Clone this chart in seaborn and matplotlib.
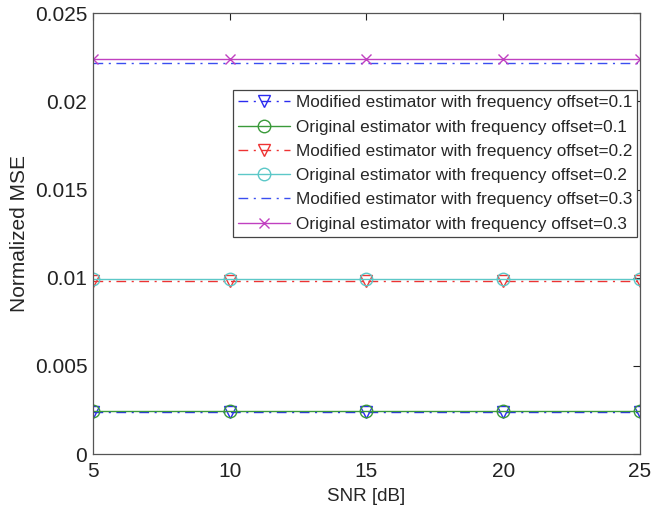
import numpy as np
import pandas as pd
import seaborn as sns
import matplotlib
matplotlib.use('Agg')
import matplotlib.pyplot as plt

sns.set_style('white')
plt.rcParams['font.family'] = ['Liberation Sans', 'DejaVu Sans']

# data
snr = [5, 10, 15, 20, 25]
mod_01 = [0.00240, 0.00240, 0.00240, 0.00240, 0.00240]
orig_01 = [0.00246, 0.00246, 0.00246, 0.00246, 0.00246]
mod_02 = [0.00981, 0.00981, 0.00981, 0.00981, 0.00981]
orig_02 = [0.00992, 0.00992, 0.00992, 0.00992, 0.00992]
mod_03 = [0.02219, 0.02219, 0.02219, 0.02219, 0.02219]
orig_03 = [0.02239, 0.02239, 0.02239, 0.02239, 0.02239]

labels = ['Modified estimator with frequency offset=0.1',
          'Original estimator with frequency offset=0.1',
          'Modified estimator with frequency offset=0.2',
          'Original estimator with frequency offset=0.2',
          'Modified estimator with frequency offset=0.3',
          'Original estimator with frequency offset=0.3']
series = [mod_01, orig_01, mod_02, orig_02, mod_03, orig_03]

# style per series: colour, linestyle, marker, marker size
dashdot = (0, (7, 4, 1.5, 4))
styles = [('#2b2bf0', dashdot, 'v', 9),
          ('#3a9a3a', '-', 'o', 9),
          ('#ee3333', dashdot, 'v', 9),
          ('#5cc8c8', '-', 'o', 9),
          ('#3a4ef0', dashdot, None, 0),
          ('#c040c0', '-', 'x', 7)]

fig = plt.figure(figsize=(6.68, 5.07), dpi=100)
ax = fig.add_axes([0.139, 0.1045, 0.819, 0.8695])

for lab, vals, (c, ls, m, ms) in zip(labels, series, styles):
    df = pd.DataFrame({'snr': snr, 'mse': vals})
    kw = dict(color=c, linestyle=ls, linewidth=1.0, label=lab)
    if m is not None:
        kw.update(marker=m, markersize=ms, markerfacecolor='none',
                  markeredgecolor=c, markeredgewidth=1.0)
    sns.lineplot(data=df, x='snr', y='mse', ax=ax, **kw)

ax.set_xlim(5, 25)
ax.set_ylim(0, 0.025)
ax.set_xticks([5, 10, 15, 20, 25])
ax.set_yticks([0, 0.005, 0.01, 0.015, 0.02, 0.025])
ax.set_yticklabels(['0', '0.005', '0.01', '0.015', '0.02', '0.025'])
ax.tick_params(direction='in', length=5, width=0.8, top=True, right=True,
               labelsize=15, colors='#222222')
ax.tick_params(axis='y', pad=4)
ax.tick_params(axis='x', pad=6)
for s in ax.spines.values():
    s.set_color('#555555')
    s.set_linewidth(0.9)
ax.set_xlabel('SNR [dB]', fontsize=13.5, labelpad=5)
ax.set_ylabel('Normalized MSE', fontsize=15, labelpad=4)

leg = ax.legend(loc='upper right', bbox_to_anchor=(0.995, 0.825),
                borderaxespad=0, fontsize=12.3, handlelength=3.0,
                handletextpad=0.35, fancybox=False, framealpha=1,
                edgecolor='#444444', labelspacing=0.54, borderpad=0.3)
leg.get_frame().set_linewidth(0.9)

plt.savefig('out.png', dpi=100)
plt.close()
